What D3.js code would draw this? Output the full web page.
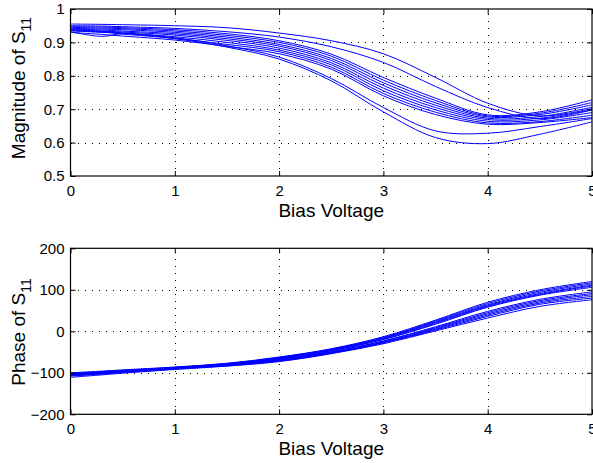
<!DOCTYPE html>
<html><head><meta charset="utf-8">
<script src="https://cdn.jsdelivr.net/npm/d3@7"></script>
<style>
body{margin:0;background:#fff;}
text{font-family:"Liberation Sans",Arial,Helvetica,sans-serif;fill:#000;}
</style></head>
<body><svg id="c" width="593" height="463"></svg>
<script>
const biasVoltage = [0,0.3,0.5,1,1.5,2,2.5,3,3.5,4,4.5,5];

const magnitudeSeries = [
  [0.955,0.954,0.953,0.950,0.944,0.928,0.905,0.866,0.795,0.718,0.680,0.702],
  [0.950,0.949,0.947,0.942,0.932,0.916,0.887,0.840,0.768,0.705,0.672,0.698],
  [0.947,0.946,0.944,0.938,0.926,0.905,0.865,0.795,0.733,0.683,0.692,0.728],
  [0.945,0.943,0.941,0.934,0.921,0.900,0.859,0.787,0.726,0.680,0.688,0.720],
  [0.942,0.940,0.938,0.930,0.916,0.894,0.852,0.779,0.719,0.677,0.684,0.713],
  [0.940,0.937,0.934,0.926,0.911,0.889,0.846,0.771,0.712,0.673,0.678,0.706],
  [0.938,0.934,0.931,0.922,0.906,0.883,0.839,0.763,0.705,0.669,0.673,0.698],
  [0.935,0.930,0.928,0.917,0.900,0.877,0.833,0.755,0.698,0.664,0.668,0.690],
  [0.932,0.918,0.926,0.912,0.894,0.872,0.826,0.747,0.691,0.659,0.663,0.682],
  [0.930,0.924,0.919,0.907,0.888,0.866,0.820,0.740,0.684,0.655,0.660,0.675],
  [0.937,0.933,0.928,0.914,0.890,0.856,0.792,0.705,0.635,0.628,0.648,0.672],
  [0.935,0.931,0.925,0.911,0.886,0.850,0.785,0.692,0.615,0.597,0.625,0.662]
];

const phaseSeries = [
  [-100,-96,-93,-86,-77,-62,-42,-13,27,70,100,120],
  [-101,-97,-94,-87,-78,-63,-43,-15,25,67,97,117],
  [-102,-98,-95,-87,-78,-64,-44,-16,23,64,94,114],
  [-103,-99,-95,-88,-79,-65,-45,-17,21,62,91,111],
  [-104,-100,-96,-88,-80,-66,-46,-19,19,60,89,109],
  [-105,-101,-97,-89,-80,-67,-47,-20,17,58,87,106],
  [-104,-100,-96,-89,-81,-68,-49,-23,11,48,77,95],
  [-105,-101,-97,-89,-81,-69,-50,-24,9,45,74,91],
  [-106,-102,-98,-90,-82,-70,-51,-26,7,42,71,88],
  [-107,-102,-98,-90,-82,-71,-52,-27,5,39,68,84],
  [-108,-103,-99,-91,-83,-72,-53,-28,3,36,65,80],
  [-111,-105,-101,-92,-84,-73,-54,-30,1,32,60,76]
];

const xTicks = [0,1,2,3,4,5];
const magTicks = [0.5,0.6,0.7,0.8,0.9,1];
const magTickLabels = ["0.5","0.6","0.7","0.8","0.9","1"];
const phaseTicks = [-200,-100,0,100,200];
const phaseTickLabels = ["\u2212200","\u2212100","0","100","200"];

const svg = d3.select("#c");
const L = 70.5, R = 592;

function panel(top, bottom, yDomain, yTicks, yLabels, series, labelMain, labelCenter) {
  const x = d3.scaleLinear().domain([0,5]).range([L,R]);
  const y = d3.scaleLinear().domain(yDomain).range([bottom, top]);
  const g = svg.append("g");

  const grid = g.append("g").attr("stroke","#000").attr("stroke-width",1)
    .attr("stroke-dasharray","1,6").attr("shape-rendering","crispEdges");
  xTicks.slice(1,-1).forEach(t=>{
    grid.append("line").attr("x1",Math.round(x(t))+0.5).attr("x2",Math.round(x(t))+0.5)
      .attr("y1",bottom).attr("y2",top);
  });
  yTicks.slice(1,-1).forEach(t=>{
    grid.append("line").attr("y1",Math.round(y(t))+0.5).attr("y2",Math.round(y(t))+0.5)
      .attr("x1",L).attr("x2",R);
  });

  const line = d3.line().x((d,i)=>x(biasVoltage[i])).y(d=>y(d)).curve(d3.curveCatmullRom.alpha(0.5));
  g.append("g").selectAll("path").data(series).join("path")
    .attr("d",line).attr("fill","none").attr("stroke","#0000ff").attr("stroke-width",1);

  const ax = d3.axisBottom(x).tickValues(xTicks).tickSize(-5).tickPadding(9).tickFormat(d3.format("d"));
  const axB = g.append("g").attr("transform",`translate(0,${bottom})`).call(ax);
  const axT = g.append("g").attr("transform",`translate(0,${top})`).call(d3.axisTop(x).tickValues(xTicks).tickSize(-5).tickFormat(""));
  const ay = d3.axisLeft(y).tickValues(yTicks).tickSize(-5).tickPadding(6).tickFormat((d,i)=>yLabels[i]);
  const axL = g.append("g").attr("transform",`translate(${L},0)`).call(ay);
  const axR = g.append("g").attr("transform",`translate(${R},0)`).call(d3.axisRight(y).tickValues(yTicks).tickSize(-5).tickFormat(""));
  [axB,axT,axL,axR].forEach(a=>{
    a.select(".domain").remove();
    a.selectAll("line").attr("stroke","#000");
    a.selectAll("text").attr("font-size",15).attr("font-family","Liberation Sans, Arial, sans-serif").attr("fill","#000");
  });
  g.append("rect").attr("x",L).attr("y",top).attr("width",R-L).attr("height",bottom-top)
    .attr("fill","none").attr("stroke","#000").attr("stroke-width",1.2);

  g.append("text").attr("x",(L+R)/2).attr("y",bottom+41).attr("text-anchor","middle")
    .attr("font-size",19).text("Bias Voltage");
  const yl = g.append("text").attr("transform",`translate(25,${labelCenter}) rotate(-90)`)
    .attr("text-anchor","middle").attr("font-size",19);
  yl.append("tspan").text(labelMain);
  yl.append("tspan").attr("dy",6).attr("font-size",14).text("11");
}

panel(9, 176, [0.5,1], magTicks, magTickLabels, magnitudeSeries, "Magnitude of S", 88);
panel(248.3, 414.3, [-200,200], phaseTicks, phaseTickLabels, phaseSeries, "Phase of S", 332);
</script></body></html>
